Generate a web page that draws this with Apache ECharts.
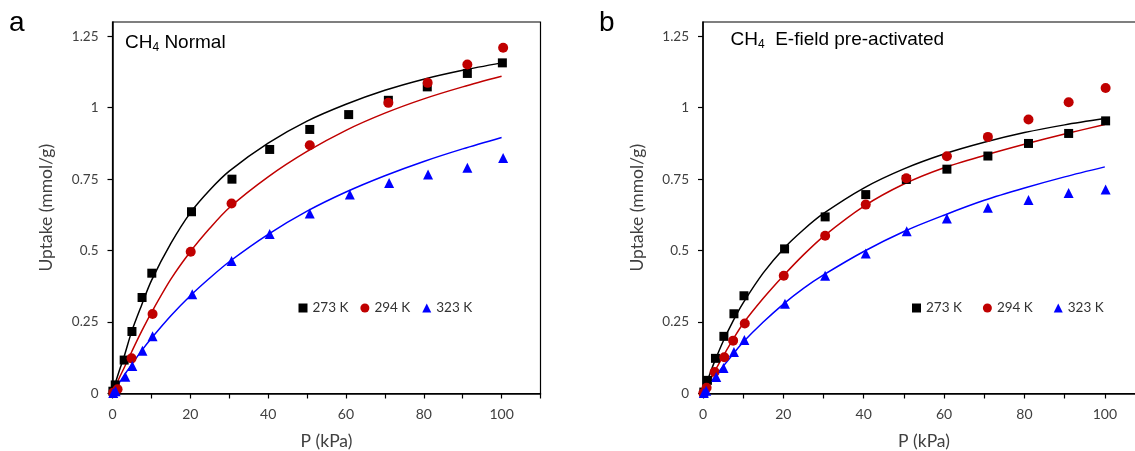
<!DOCTYPE html>
<html>
<head>
<meta charset="utf-8">
<script src="https://cdn.jsdelivr.net/npm/echarts@6/dist/echarts.min.js"></script>
<style>html,body{margin:0;padding:0;background:#fff}#c{width:1135px;height:451px}</style>
</head>
<body>
<div id="c"></div>
<script>
// ---- tick values ----
const xTicks = [0, 10, 20, 30, 40, 50, 60, 70, 80, 90, 100, 110];
const xLabels = [0, 20, 40, 60, 80, 100];
const yTicks = [0, 0.25, 0.5, 0.75, 1, 1.25];
const legendNames = ['273 K', '294 K', '323 K'];

// ---- panel a (Normal): measured points ----
const a273P = [0.1, 0.7, 3.0, 5.0, 7.6, 10.1, 20.3, 30.7, 40.4, 50.7, 60.7, 70.9, 80.9, 91.2, 100.2];
const a273U = [0.008, 0.03, 0.117, 0.217, 0.336, 0.421, 0.636, 0.75, 0.854, 0.924, 0.976, 1.026, 1.073, 1.12, 1.157];
const a294P = [0.2, 1.3, 4.9, 10.3, 20.1, 30.6, 50.7, 70.9, 81.0, 91.2, 100.4];
const a294U = [0.003, 0.015, 0.123, 0.278, 0.496, 0.665, 0.869, 1.017, 1.087, 1.151, 1.21];
const a323P = [0.2, 0.8, 3.3, 5.1, 7.7, 10.3, 20.5, 30.6, 40.4, 50.7, 61.0, 71.1, 81.1, 91.2, 100.4];
const a323U = [0.002, 0.008, 0.059, 0.096, 0.15, 0.2, 0.347, 0.464, 0.558, 0.63, 0.696, 0.737, 0.766, 0.79, 0.824];

// ---- panel b (E-field pre-activated): measured points ----
const b273P = [0.2, 1.1, 3.1, 5.2, 7.7, 10.2, 20.3, 30.4, 40.5, 50.6, 60.7, 70.9, 81.0, 91.0, 100.2];
const b273U = [0.005, 0.046, 0.123, 0.2, 0.279, 0.342, 0.506, 0.618, 0.696, 0.749, 0.785, 0.831, 0.875, 0.91, 0.954];
const b294P = [0.1, 0.9, 2.9, 5.3, 7.5, 10.4, 20.1, 30.4, 40.5, 50.6, 60.7, 70.9, 81.0, 91.0, 100.2];
const b294U = [0.002, 0.02, 0.075, 0.127, 0.185, 0.245, 0.412, 0.552, 0.661, 0.753, 0.83, 0.898, 0.959, 1.019, 1.069];
const b323P = [0.2, 0.8, 3.3, 5.1, 7.7, 10.3, 20.4, 30.4, 40.5, 50.7, 60.7, 70.9, 81.0, 91.0, 100.2];
const b323U = [0.002, 0.01, 0.058, 0.089, 0.145, 0.187, 0.314, 0.412, 0.49, 0.568, 0.612, 0.65, 0.677, 0.702, 0.714];

// ---- fitted curves ----
const fitP = [0, 1, 2, 3, 5, 7.5, 10, 15, 20, 25, 30, 40, 50, 60, 70, 80, 90, 100];
const fitA273 = [0, 0.048, 0.09, 0.13, 0.22, 0.31, 0.395, 0.525, 0.632, 0.712, 0.778, 0.876, 0.953, 1.012, 1.061, 1.1, 1.131, 1.157];
const fitA294 = [0, 0.032, 0.062, 0.09, 0.148, 0.218, 0.283, 0.4, 0.496, 0.578, 0.65, 0.758, 0.847, 0.921, 0.981, 1.031, 1.073, 1.11];
const fitA323 = [0, 0.022, 0.043, 0.064, 0.103, 0.15, 0.193, 0.272, 0.342, 0.404, 0.461, 0.557, 0.638, 0.705, 0.762, 0.812, 0.856, 0.896];
const fitB273 = [0, 0.041, 0.08, 0.116, 0.182, 0.254, 0.317, 0.422, 0.506, 0.573, 0.63, 0.719, 0.786, 0.838, 0.879, 0.913, 0.94, 0.962];
const fitB294 = [0, 0.027, 0.053, 0.08, 0.13, 0.19, 0.245, 0.333, 0.412, 0.485, 0.55, 0.655, 0.733, 0.79, 0.833, 0.872, 0.908, 0.941];
const fitB323 = [0, 0.02, 0.041, 0.06, 0.095, 0.138, 0.18, 0.25, 0.313, 0.368, 0.415, 0.497, 0.567, 0.624, 0.676, 0.719, 0.758, 0.793];

const BLACK = '#000000', RED = '#C00000', BLUE = '#0000FF';
const TXT = '#404040';
const pairs = (P, U) => P.map((p, i) => [p, U[i]]);

function xAx(gi) {
  return {
    type: 'value', gridIndex: gi, min: 0, max: 110, interval: 10,
    name: 'P (kPa)', nameLocation: 'middle', nameGap: 39,
    nameTextStyle: { fontFamily: 'Lato', fontSize: 17.5, color: TXT },
    axisLine: { onZero: false, lineStyle: { color: '#000', width: 1.5 } },
    axisTick: { show: true, inside: false, length: 5, customValues: xTicks, lineStyle: { color: '#000', width: 1.2 } },
    axisLabel: { customValues: xLabels, margin: 14, fontFamily: 'Lato', fontSize: 14, color: TXT },
    splitLine: { show: false }
  };
}
function yAx(gi) {
  return {
    type: 'value', gridIndex: gi, min: 0, max: 1.3, interval: 0.25,
    name: 'Uptake (mmol/g)', nameLocation: 'middle', nameGap: 57, nameRotate: 90,
    nameTextStyle: { fontFamily: 'Lato', fontSize: 17.5, color: TXT },
    axisLine: { onZero: false, lineStyle: { color: '#000', width: 1.5 } },
    axisTick: { show: true, inside: false, length: 5, customValues: yTicks, lineStyle: { color: '#000', width: 1.2 } },
    axisLabel: { customValues: yTicks, margin: 14, fontFamily: 'Lato', fontSize: 13.5, color: TXT },
    splitLine: { show: false }
  };
}
function sc(name, gi, P, U, symbol, size, color) {
  return { type: 'scatter', name, xAxisIndex: gi, yAxisIndex: gi, data: pairs(P, U),
    symbol, symbolSize: size, itemStyle: { color, opacity: 1 }, z: 5, silent: true };
}
function fit(name, gi, U, color) {
  return { type: 'line', name, xAxisIndex: gi, yAxisIndex: gi, data: pairs(fitP, U),
    smooth: 0.3, showSymbol: false, symbol: 'none',
    lineStyle: { color, width: 1.5 }, z: 3, silent: true };
}
function legend(left, gap) {
  return {
    left, top: 301, orient: 'horizontal', padding: 0, itemGap: gap,
    itemWidth: 9, itemHeight: 9, selectedMode: false,
    textStyle: { fontFamily: 'Lato', fontSize: 13.5, color: '#333' },
    data: [{ name: legendNames[0], icon: 'rect' }, { name: legendNames[1], icon: 'circle' }, { name: legendNames[2], icon: 'triangle' }]
  };
}
function grid(left, width) {
  return { left, top: 22, width, height: 371.5, show: true, borderColor: '#000', borderWidth: 1.2,
    containLabel: false, outerBoundsMode: 'none' };
}

const chart = echarts.init(document.getElementById('c'), null, { renderer: 'canvas' });
chart.setOption({
  animation: false,
  backgroundColor: '#fff',
  grid: [grid(112.5, 428), grid(703, 442)],
  xAxis: [xAx(0), xAx(1)],
  yAxis: [yAx(0), yAx(1)],
  legend: [legend(298.5, 12), legend(912, 21)],
  graphic: [
    { type: 'text', left: 9, top: 9, style: { text: 'a', font: '28px "Liberation Sans"', fill: '#000' } },
    { type: 'text', left: 599, top: 9, style: { text: 'b', font: '28px "Liberation Sans"', fill: '#000' } },
    { type: 'text', left: 125, top: 33, style: {
        text: '{a|CH}{s|4}{a| Normal}', fill: '#000',
        rich: { a: { fontFamily: 'Liberation Sans', fontSize: 19, lineHeight: 22 },
                s: { fontFamily: 'Liberation Sans', fontSize: 12, lineHeight: 12, verticalAlign: 'bottom' } } } },
    { type: 'text', left: 730.5, top: 30, style: {
        text: '{a|CH}{s|4}{a|  E-field pre-activated}', fill: '#000',
        rich: { a: { fontFamily: 'Liberation Sans', fontSize: 19, lineHeight: 22 },
                s: { fontFamily: 'Liberation Sans', fontSize: 12, lineHeight: 12, verticalAlign: 'bottom' } } } }
  ],
  series: [
    fit('fitA273', 0, fitA273, BLACK), fit('fitA294', 0, fitA294, RED), fit('fitA323', 0, fitA323, BLUE),
    fit('fitB273', 1, fitB273, BLACK), fit('fitB294', 1, fitB294, RED), fit('fitB323', 1, fitB323, BLUE),
    sc('273 K', 0, a273P, a273U, 'rect', 9, BLACK),
    sc('294 K', 0, a294P, a294U, 'circle', 10, RED),
    sc('323 K', 0, a323P, a323U, 'triangle', 10, BLUE),
    sc('273 K', 1, b273P, b273U, 'rect', 9, BLACK),
    sc('294 K', 1, b294P, b294U, 'circle', 10, RED),
    sc('323 K', 1, b323P, b323U, 'triangle', 10, BLUE)
  ]
});
</script>
</body>
</html>
